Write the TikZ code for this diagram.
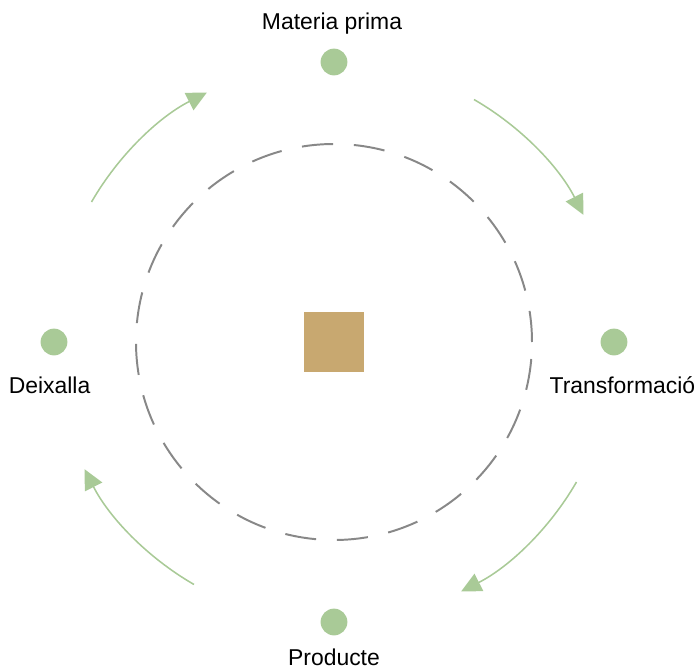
\documentclass[tikz,border=0pt]{standalone}
\usepackage{fontspec}
\setmainfont{Liberation Sans}
\usetikzlibrary{arrows.meta, positioning}
\definecolor{verdcicle}{RGB}{169, 202, 151}
\definecolor{ocre}{RGB}{200, 168, 112}
\definecolor{grismig}{RGB}{136, 136, 136}

\begin{document}
\begin{tikzpicture}[
    every node/.style={font=\fontsize{16.3}{19}\selectfont},
    punt/.style={circle, fill=verdcicle, minimum size=0.67cm, inner sep=0pt},
    etiqueta/.style={anchor=base, inner sep=0pt},
    flux/.style={draw=verdcicle, line width=1.1pt,
        -{Triangle[length=0.5cm, width=0.48cm]}}
]

\useasboundingbox (-8.35,-8.15) rectangle (9.1,8.55);

% ------------------------------------------------
% Cercle central
% ------------------------------------------------

\draw[
    grismig,
    line width=1.4pt,
    dash pattern=on 0.78cm off 0.52cm
] (0,0) circle (4.95);

\node[
    fill=ocre,
    minimum size=1.5cm,
    inner sep=0pt
] (centre) at (0,0)
{};

% ------------------------------------------------
% Etapes
% ------------------------------------------------

\node[punt] (materia) at (90:7) {};
\node[punt] (transf) at (0:7) {};
\node[punt] (producte) at (270:7) {};
\node[punt] (deixalla) at (180:7) {};

\node[etiqueta] (lmateria) at (-0.05,7.825) {Materia prima};
\node[etiqueta] (ltransf) at (7.21,-1.275) {Transformació};
\node[etiqueta] (lproducte) at (0,-8.075) {Producte};
\node[etiqueta] (ldeixalla) at (-7.11,-1.275) {Deixalla};

% ------------------------------------------------
% Fletxes del cicle
% ------------------------------------------------

\coordinate (f1) at (60:7);
\coordinate (f2) at (-30:7);
\coordinate (f3) at (-120:7);
\coordinate (f4) at (150:7);

\draw[flux] (f1) arc[start angle=60, end angle=27, radius=7];
\draw[flux] (f2) arc[start angle=-30, end angle=-63, radius=7];
\draw[flux] (f3) arc[start angle=-120, end angle=-153, radius=7];
\draw[flux] (f4) arc[start angle=150, end angle=117, radius=7];

\end{tikzpicture}
\end{document}
